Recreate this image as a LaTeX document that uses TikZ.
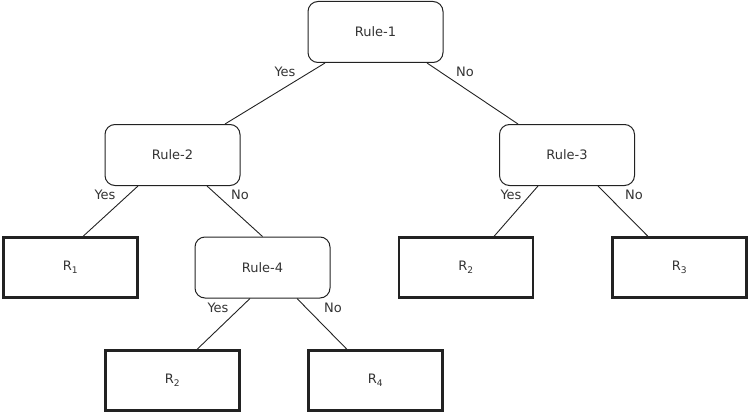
\documentclass[tikz,border=0pt]{standalone}
\usepackage{fontspec}
\setmainfont{DejaVu Sans}
\usetikzlibrary{positioning}
\definecolor{txt}{HTML}{333333}
\definecolor{ln}{HTML}{222222}
\tikzset{
  rulebox/.style={draw=ln, line width=1pt, rounded corners=10pt, fill=white, minimum width=135pt, minimum height=61pt, inner sep=0pt, text=txt, font=\fontsize{13}{15}\selectfont},
  leafbox/.style={draw=ln, line width=2.2pt, fill=white, minimum width=134pt, minimum height=60pt, inner sep=0pt, text=txt, font=\fontsize{13}{15}\selectfont},
  edge/.style={draw=ln, line width=0.9pt},
  lbl/.style={text=txt, font=\fontsize{13}{15}\selectfont, inner sep=0pt}
}
\begin{document}
\begin{tikzpicture}[x=1pt,y=-1pt]
\useasboundingbox (0,0) rectangle (751,417);
\node[rulebox] (r1) at (375.5,32) {Rule-1};
\node[rulebox] (r2) at (172.5,155) {Rule-2};
\node[rulebox] (r3) at (567,155) {Rule-3};
\node[rulebox] (r4) at (262.5,267.5) {Rule-4};
\node[leafbox] (l1) at (70.5,267.5) {R\textsubscript{1}};
\node[leafbox] (l2) at (466,267.5) {R\textsubscript{2}};
\node[leafbox] (l3) at (679.5,267.5) {R\textsubscript{3}};
\node[leafbox] (l4) at (172.5,380.5) {R\textsubscript{2}};
\node[leafbox] (l5) at (375.5,380.5) {R\textsubscript{4}};
\draw[edge] ([xshift=-50.5pt]r1.south) -- ([xshift=52.5pt]r2.north);
\draw[edge] ([xshift=51.5pt]r1.south) -- ([xshift=-49pt]r3.north);
\draw[edge] ([xshift=-34.5pt]r2.south) -- ([xshift=12.5pt]l1.north);
\draw[edge] ([xshift=34.5pt]r2.south) -- (r4.north);
\draw[edge] ([xshift=-29pt]r3.south) -- ([xshift=28pt]l2.north);
\draw[edge] ([xshift=31pt]r3.south) -- ([xshift=-31.5pt]l3.north);
\draw[edge] ([xshift=-12.5pt]r4.south) -- ([xshift=24.5pt]l4.north);
\draw[edge] ([xshift=34.5pt]r4.south) -- ([xshift=-28.5pt]l5.north);
\node[lbl] (y1) at (285,72) {Yes};
\node[lbl] (n1) at (465,72) {No};
\node[lbl] (y2) at (105,195) {Yes};
\node[lbl] (n2) at (240,195) {No};
\node[lbl] (y3) at (511,195) {Yes};
\node[lbl] (n3) at (634,195) {No};
\node[lbl] (y4) at (218,308) {Yes};
\node[lbl] (n4) at (333,308) {No};
\end{tikzpicture}
\end{document}
